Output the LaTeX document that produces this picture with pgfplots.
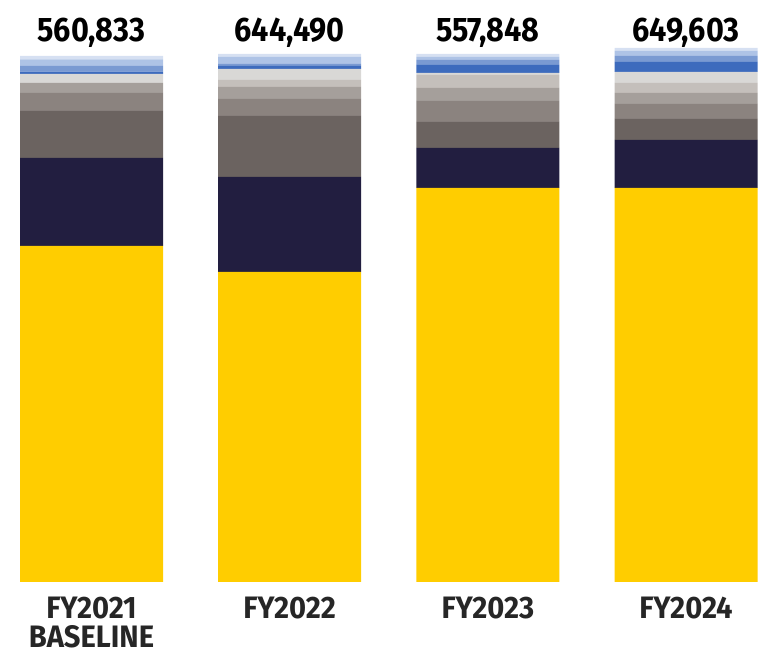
\documentclass[border=0pt]{standalone}
\usepackage{pgfplots}
\pgfplotsset{compat=1.18}
\usepackage{pgfplotstable}
\usepackage{fontspec}
\setmainfont{Fira Sans}
\newfontfamily\toplblfont[FakeStretch=0.90]{Fira Sans}
\newfontfamily\catlblfont[FakeStretch=0.94]{Fira Sans}
\newcommand{\topfont}{\toplblfont\bfseries\fontsize{34}{36}\selectfont}
\newcommand{\catfont}{\catlblfont\bfseries\fontsize{31}{33}\selectfont}

\definecolor{cYellow}{HTML}{FFCD00}
\definecolor{cNavy}{HTML}{221E40}
\definecolor{cGa}{HTML}{6B6360}
\definecolor{cGb}{HTML}{8B837F}
\definecolor{cGc}{HTML}{A59F9B}
\definecolor{cGd}{HTML}{C4BFBB}
\definecolor{cGe}{HTML}{D9D8D6}
\definecolor{cBa}{HTML}{3D6BBD}
\definecolor{cBb}{HTML}{7A9AD2}
\definecolor{cBc}{HTML}{AEC3E6}
\definecolor{cBd}{HTML}{D6E0F2}

\pgfplotstableread{
pos yellow navy ga gb gc gd ge ba bb bc bd
0 336 88 47 18 10 0  9  2.3 5.7 6.7 3.3
1 310 95 61 17 12 7  11 3   2   7   3
2 394 40 26 21 13 13 2  8   5   3   3
3 394 48 21 15 11 10 11 10  6   5   3
}\mydata

\begin{document}
\begin{tikzpicture}
\begin{axis}[
  x=198.2pt, y=1pt,
  xmin=-0.4617, xmax=3.368,
  ymin=-74, ymax=582,
  hide axis,
  clip=false,
  ybar stacked,
  bar width=143pt,
]
\addplot[draw=none,fill=cYellow] table[x=pos,y=yellow]{\mydata};
\addplot[draw=none,fill=cNavy] table[x=pos,y=navy]{\mydata};
\addplot[draw=none,fill=cGa] table[x=pos,y=ga]{\mydata};
\addplot[draw=none,fill=cGb] table[x=pos,y=gb]{\mydata};
\addplot[draw=none,fill=cGc] table[x=pos,y=gc]{\mydata};
\addplot[draw=none,fill=cGd] table[x=pos,y=gd]{\mydata};
\addplot[draw=none,fill=cGe] table[x=pos,y=ge]{\mydata};
\addplot[draw=none,fill=cBa] table[x=pos,y=ba]{\mydata};
\addplot[draw=none,fill=cBb] table[x=pos,y=bb]{\mydata};
\addplot[draw=none,fill=cBc] table[x=pos,y=bc]{\mydata};
\addplot[draw=none,fill=cBd] table[x=pos,y=bd]{\mydata};

\node[anchor=base,inner sep=0pt,font=\topfont] at (axis cs:0,540) {560,833};
\node[anchor=base,inner sep=0pt,font=\topfont] at (axis cs:1,540) {644,490};
\node[anchor=base,inner sep=0pt,font=\topfont] at (axis cs:2,540) {557,848};
\node[anchor=base,inner sep=0pt,font=\topfont] at (axis cs:3,540) {649,603};
\node[anchor=base,inner sep=0pt,font=\catfont,text=black!85] at (axis cs:0,-37) {FY2021};
\node[anchor=base,inner sep=0pt,font=\catfont,text=black!85] at (axis cs:0,-66) {BASELINE};
\node[anchor=base,inner sep=0pt,font=\catfont,text=black!85] at (axis cs:1,-37) {FY2022};
\node[anchor=base,inner sep=0pt,font=\catfont,text=black!85] at (axis cs:2,-37) {FY2023};
\node[anchor=base,inner sep=0pt,font=\catfont,text=black!85] at (axis cs:3,-37) {FY2024};
\end{axis}
\pgfresetboundingbox
\useasboundingbox (current axis.south west) rectangle (current axis.north east);
\end{tikzpicture}
\end{document}
